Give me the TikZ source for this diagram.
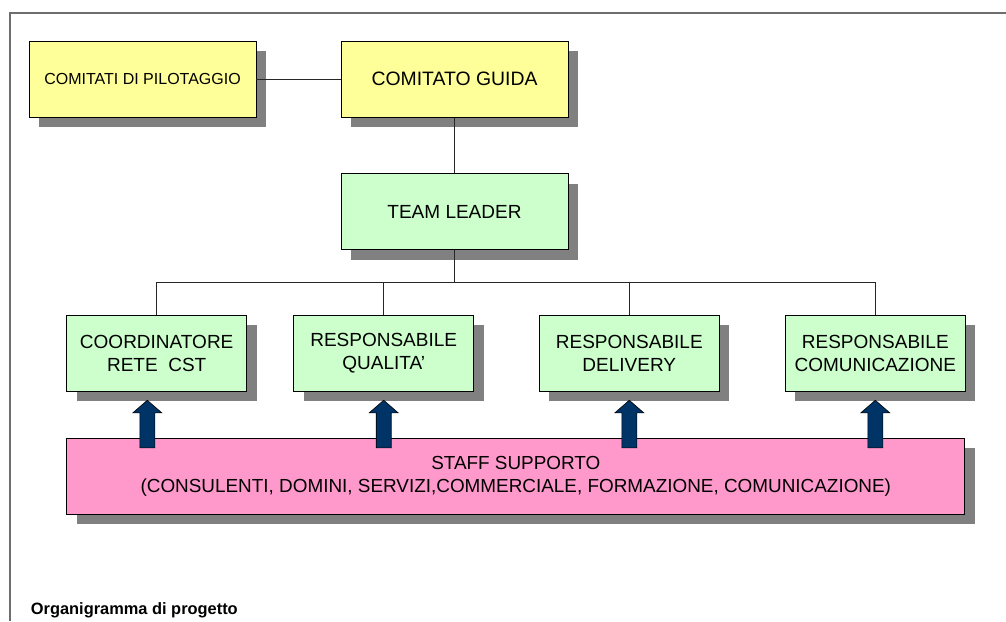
\documentclass[tikz,border=0pt]{standalone}
\usepackage{fontspec}
\setmainfont{Liberation Sans}
\usetikzlibrary{shadows,calc}
\definecolor{boxyellow}{HTML}{FFFF99}
\definecolor{boxgreen}{HTML}{CCFFCC}
\definecolor{boxpink}{HTML}{FF99CC}
\definecolor{shadowgray}{HTML}{808080}
\definecolor{arrowblue}{HTML}{003366}
\definecolor{framegray}{HTML}{6E6E6E}
\tikzset{
  orgbox/.style={draw=black, line width=0.9pt, inner sep=0pt, align=center,
    minimum height=76pt,
    drop shadow={shadow xshift=10pt, shadow yshift=-10pt, opacity=1, fill=shadowgray},
    font=\fontsize{19}{22.7}\selectfont},
  ybox/.style={orgbox, fill=boxyellow, minimum width=227pt},
  gbox/.style={orgbox, fill=boxgreen, minimum width=180pt},
  tlbox/.style={orgbox, fill=boxgreen, minimum width=227pt},
  pbox/.style={orgbox, fill=boxpink, minimum width=898pt, font=\fontsize{18.9}{22.7}\selectfont},
  link/.style={draw=black!85, line width=1pt},
  framestyle/.style={draw=framegray, line width=1.6pt},
  uparr/.pic={
    \draw[fill=arrowblue, draw=black, line width=0.6pt]
      (-7.5,0) -- (-7.5,-35) -- (-14.5,-35) -- (0,-47.6) -- (14.5,-35) -- (7.5,-35) -- (7.5,0) -- cycle;
  }
}
\begin{document}
\begin{tikzpicture}[x=1pt,y=-1pt]
\useasboundingbox (0,0) rectangle (1006,621);
\draw[framestyle] (1006,12.7) -- (9.8,12.7) -- (9.8,621);

\node[ybox, font=\fontsize{16}{19}\selectfont] (pil) at (142.5,79.3) {COMITATI DI PILOTAGGIO};
\node[ybox, font=\fontsize{19.4}{22.7}\selectfont] (cg) at (454.5,79.3) {COMITATO GUIDA};
\node[tlbox] (tl) at (454.5,211.5) {TEAM LEADER};

\node[gbox] (c1) at (156.7,353.3) {COORDINATORE\\RETE\ \ CST};
\node[gbox] (c2) at (383.7,353.3) {RESPONSABILE\\QUALITA'};
\node[gbox] (c3) at (629.3,353.3) {RESPONSABILE\\DELIVERY};
\node[gbox] (c4) at (875.3,353.3) {RESPONSABILE\\COMUNICAZIONE};

\node[pbox] (st) at (515.8,476.3) {STAFF SUPPORTO\\(CONSULENTI, DOMINI, SERVIZI,COMMERCIALE, FORMAZIONE, COMUNICAZIONE)};

\coordinate (bus) at (454.5,282.5);
\draw[link] (pil.east) -- (cg.west);
\draw[link] (cg.south) -- (tl.north);
\draw[link] (tl.south) -- (bus);
\foreach \c in {c1,c2,c3,c4} { \draw[link] (\c.north) |- (bus); }

\pic at ($(c1.south |- st.north)+(-9.4,10)$) {uparr};
\pic at ($(c2.south |- st.north)+(0,10)$) {uparr};
\pic at ($(c3.south |- st.north)+(0,10)$) {uparr};
\pic at ($(c4.south |- st.north)+(0,10)$) {uparr};

\node[anchor=base west, inner sep=0pt, font=\bfseries\fontsize{16.4}{19}\selectfont] (cap) at (30.7,614) {Organigramma di progetto};
\end{tikzpicture}
\end{document}
